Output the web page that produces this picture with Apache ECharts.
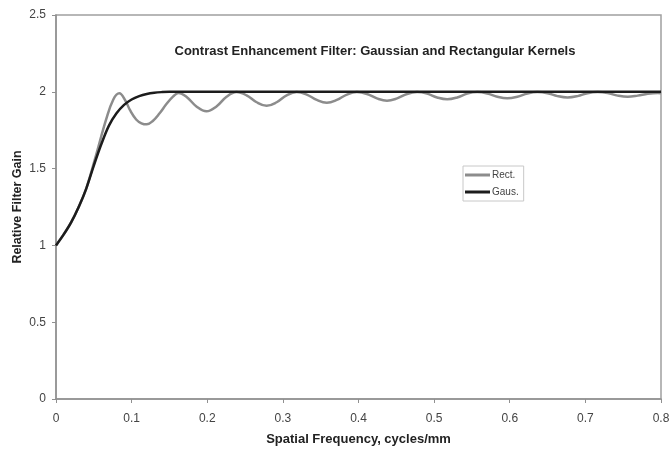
<!DOCTYPE html>
<html>
<head>
<meta charset="utf-8">
<script src="https://cdn.jsdelivr.net/npm/echarts@6/dist/echarts.min.js"></script>
<style>
html,body{margin:0;padding:0;background:#fff;}
#chart{width:672px;height:449px;}
</style>
</head>
<body>
<div id="chart"></div>
<script>
// Rectangular kernel: spatial frequency (cycles/mm) and relative gain
var rectFreq = [0, 0.01, 0.02, 0.03, 0.04, 0.0531, 0.0663, 0.0758, 0.0837, 0.092, 0.0979, 0.106, 0.113, 0.12, 0.128, 0.137, 0.146, 0.155, 0.162,
  0.1724, 0.1857, 0.1989, 0.2122, 0.2255, 0.2387, 0.2520, 0.2653, 0.2785, 0.2918, 0.3050, 0.3183, 0.3316, 0.3448, 0.3581, 0.3714, 0.3846,
  0.3979, 0.4112, 0.4244, 0.4377, 0.4510, 0.4642, 0.4775, 0.4907, 0.5040, 0.5173, 0.5305, 0.5438, 0.5570, 0.5703, 0.5836, 0.5968, 0.6101,
  0.6234, 0.6366, 0.6499, 0.6631, 0.6764, 0.6897, 0.7029, 0.7162, 0.7294, 0.7427, 0.7560, 0.7692, 0.7825, 0.7958, 0.8];
var rectGain = [1, 1.07, 1.15, 1.25, 1.37, 1.59, 1.82, 1.95, 1.99, 1.94, 1.88, 1.82, 1.795, 1.788, 1.81, 1.86, 1.92, 1.97, 1.993,
  1.968, 1.905, 1.873, 1.905, 1.968, 1.998, 1.977, 1.932, 1.909, 1.932, 1.977, 1.998, 1.982, 1.947, 1.929, 1.947, 1.982,
  1.998, 1.986, 1.957, 1.942, 1.957, 1.986, 1.998, 1.988, 1.963, 1.951, 1.963, 1.988, 1.998, 1.989, 1.968, 1.958, 1.968,
  1.989, 1.998, 1.991, 1.972, 1.963, 1.972, 1.991, 1.998, 1.992, 1.975, 1.967, 1.975, 1.988, 1.993, 1.99];

// Gaussian kernel
var gausFreq = [0, 0.01, 0.02, 0.03, 0.04, 0.05, 0.06, 0.07, 0.08, 0.09, 0.1, 0.11, 0.12, 0.13, 0.14, 0.15, 0.2, 0.4, 0.6, 0.8];
var gausGain = [1.0, 1.07, 1.15, 1.25, 1.37, 1.52, 1.66, 1.78, 1.86, 1.915, 1.95, 1.972, 1.986, 1.994, 1.998, 2.0, 2.0, 2.0, 2.0, 2.0];

var xTicks = [0, 0.1, 0.2, 0.3, 0.4, 0.5, 0.6, 0.7, 0.8];
var yTicks = [0, 0.5, 1, 1.5, 2, 2.5];

function pairs(xs, ys) { return xs.map(function (x, i) { return [x, ys[i]]; }); }

var FONT = 'Liberation Sans, Arial, sans-serif';
var chart = echarts.init(document.getElementById('chart'), null, {renderer: 'canvas'});
chart.setOption({
  backgroundColor: '#ffffff',
  animation: false,
  title: {
    text: 'Contrast Enhancement Filter: Gaussian and Rectangular Kernels',
    left: 370, top: 40, textAlign: 'center',
    textStyle: {fontFamily: FONT, fontSize: 13, fontWeight: 'bold', color: '#222'}
  },
  legend: {
    orient: 'vertical', left: 463, top: 166,
    padding: [4, 5, 4, 2], itemGap: 7, itemWidth: 25, itemHeight: 3, icon: 'rect',
    borderColor: '#c8c8c8', borderWidth: 1,
    textStyle: {fontFamily: FONT, fontSize: 10, color: '#444', padding: [0, 0, 0, -3]},
    data: ['Rect.', 'Gaus.']
  },
  grid: {left: 56, right: 11, top: 15, bottom: 50, show: true, borderColor: '#a0a0a0', borderWidth: 1.5,
    backgroundColor: 'transparent', containLabel: false, outerBoundsMode: 'none'},
  xAxis: {
    type: 'value', min: 0, max: 0.8, interval: 0.1,
    name: 'Spatial Frequency, cycles/mm', nameLocation: 'middle', nameGap: 34, nameMoveOverlap: false,
    nameTextStyle: {fontFamily: FONT, fontSize: 13, fontWeight: 'bold', color: '#222'},
    axisLine: {lineStyle: {color: '#909090', width: 1.5}},
    axisTick: {show: true, length: 4, lineStyle: {color: '#909090'}},
    axisLabel: {margin: 14, fontFamily: FONT, fontSize: 12, color: '#444',
      formatter: function (v) { return xTicks.indexOf(+v.toFixed(1)) >= 0 ? String(+v.toFixed(1)) : ''; }},
    splitLine: {show: false}
  },
  yAxis: {
    type: 'value', min: 0, max: 2.5, interval: 0.5,
    name: 'Relative Filter Gain', nameLocation: 'middle', nameGap: 32, nameMoveOverlap: false,
    nameTextStyle: {fontFamily: FONT, fontSize: 12.5, fontWeight: 'bold', color: '#222'},
    axisLine: {show: true, lineStyle: {color: '#909090', width: 1.5}},
    axisTick: {show: true, length: 4, lineStyle: {color: '#909090'}},
    axisLabel: {margin: 10, fontFamily: FONT, fontSize: 12, color: '#444',
      formatter: function (v) { return yTicks.indexOf(+v.toFixed(1)) >= 0 ? String(+v.toFixed(1)) : ''; }},
    splitLine: {show: false}
  },
  series: [
    {name: 'Rect.', type: 'line', data: pairs(rectFreq, rectGain), symbol: 'none', smooth: 0.4,
      lineStyle: {color: '#8c8c8c', width: 2.5}, itemStyle: {color: '#8c8c8c'}},
    {name: 'Gaus.', type: 'line', data: pairs(gausFreq, gausGain), symbol: 'none', smooth: 0.35,
      lineStyle: {color: '#1c1c1c', width: 2.5}, itemStyle: {color: '#1c1c1c'}}
  ]
});
</script>
</body>
</html>
